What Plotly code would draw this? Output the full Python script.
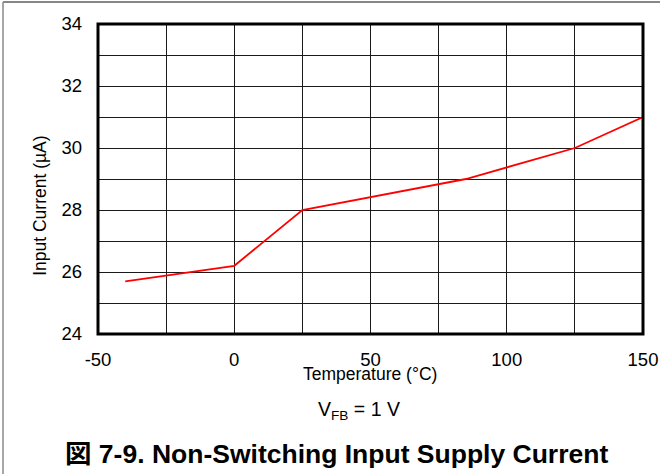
import plotly.graph_objects as go

# Input supply current vs. junction temperature (non-switching, V_FB = 1 V)
temperature_c = [-40, 0, 25, 85, 125, 150]
input_current_ua = [25.7, 26.2, 28.0, 29.0, 30.0, 31.0]

x_tick_values = [-50, 0, 50, 100, 150]
y_tick_values = [24, 26, 28, 30, 32, 34]

FONT = "Liberation Sans, Arial, sans-serif"
GRID = "#1a1a1a"

# plot-area geometry in pixels (used to convert pixel spots to paper coords)
L, R, T, B = 98.2, 642.7, 24.0, 334.2
W, H = 660, 474


def px(xp):
    return (xp - L) / (R - L)


def py(yp):
    return (B - yp) / (B - T)


fig = go.Figure()
fig.add_trace(go.Scatter(
    x=temperature_c, y=input_current_ua, mode="lines",
    line=dict(color="#ff0000", width=1.8), showlegend=False,
))

fig.update_xaxes(
    range=[-50, 150], tickmode="array", tickvals=x_tick_values,
    ticktext=[str(v) for v in x_tick_values],
    showgrid=True, gridcolor=GRID, gridwidth=1.3,
    minor=dict(dtick=25, tick0=-50, showgrid=True, gridcolor=GRID, gridwidth=1.3),
    zeroline=False, showline=False, ticks="", ticklabelstandoff=12,
    tickfont=dict(family=FONT, size=18.5, color="#000"),
)
fig.update_yaxes(
    range=[24, 34], tickmode="array", tickvals=y_tick_values,
    ticktext=[str(v) for v in y_tick_values],
    showgrid=True, gridcolor=GRID, gridwidth=1.3,
    minor=dict(dtick=1, tick0=24, showgrid=True, gridcolor=GRID, gridwidth=1.3),
    zeroline=False, showline=False, ticks="", ticklabelstandoff=15,
    tickfont=dict(family=FONT, size=18.5, color="#000"),
)

shapes = [
    # heavy plot frame
    dict(type="rect", xref="paper", yref="paper", x0=0, x1=1, y0=0, y1=1,
         line=dict(color="#000", width=3), layer="above"),
    # page border lines (top and left)
    dict(type="line", xref="paper", yref="paper", x0=px(3.3), x1=px(W + 2),
         y0=py(2), y1=py(2), line=dict(color="#111", width=1.2)),
    dict(type="line", xref="paper", yref="paper", x0=px(3.3), x1=px(3.3),
         y0=py(2), y1=py(H + 2), line=dict(color="#8a8a8a", width=1.5)),
]

annotations = [
    dict(text="Temperature (°C)", x=px(370), y=py(374), xref="paper", yref="paper",
         showarrow=False, xanchor="center", yanchor="middle",
         font=dict(family=FONT, size=17.5, color="#000")),
    dict(text="Input Current (µA)", x=px(39.5), y=py(205.7), xref="paper", yref="paper",
         showarrow=False, xanchor="center", yanchor="middle", textangle=-90,
         font=dict(family=FONT, size=17.5, color="#000")),
    dict(text="V<sub>FB</sub> = 1 V", x=px(358.5), y=py(411), xref="paper", yref="paper",
         showarrow=False, xanchor="center", yanchor="middle",
         font=dict(family=FONT, size=19.5, color="#000")),
    dict(text="<b>図 7-9. Non-Switching Input Supply Current</b>", x=px(336.5), y=py(454),
         xref="paper", yref="paper", showarrow=False, xanchor="center", yanchor="middle",
         font=dict(family="Liberation Sans, Arial, Noto Sans CJK JP, sans-serif",
                   size=26.5, color="#000")),
]

fig.update_layout(
    width=W, height=H,
    margin=dict(l=L, r=W - R, t=T, b=H - B, pad=0, autoexpand=False),
    paper_bgcolor="#ffffff", plot_bgcolor="#ffffff",
    shapes=shapes, annotations=annotations,
)

fig.write_html("out.html")
